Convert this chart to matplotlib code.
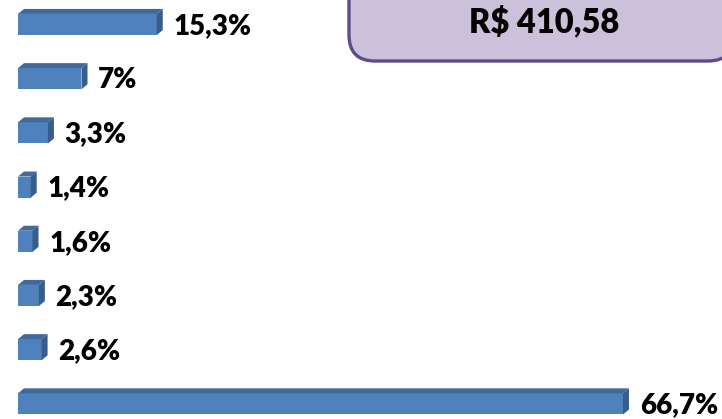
import matplotlib
matplotlib.use("Agg")
import matplotlib.pyplot as plt
from matplotlib.patches import Polygon, FancyBboxPatch

# dados (de cima para baixo)
valores = [15.3, 7, 3.3, 1.4, 1.6, 2.3, 2.6, 66.7]
rotulos = ["15,3%", "7%", "3,3%", "1,4%", "1,6%", "2,3%", "2,6%", "66,7%"]
total = "R$ 410,58"

plt.rcParams['font.family'] = ['Lato', 'DejaVu Sans']

fig = plt.figure(figsize=(7.22, 4.19), dpi=100)
ax = fig.add_axes([0, 0, 1, 1])

px_x = 9.07   # pixels por %
px_y = 54.2   # pixels por barra
ax.set_xlim(-18 / px_x, (722 - 18) / px_x)
ax.set_ylim((419 - 24.5) / px_y, -24.5 / px_y)
ax.axis('off')

h = 0.39
dx = 6 / px_x
dy = 5 / px_y
frente = '#4f81bd'
topo = '#41699b'
lado = '#385d8a'

pos = list(range(len(valores)))
ax.barh(pos, valores, height=h, color=frente, zorder=2)

for i, v in zip(pos, valores):
    t = i - h / 2
    b = i + h / 2
    ax.add_patch(Polygon([(0, t), (v, t), (v + dx, t - dy), (dx, t - dy)],
                         closed=True, color=topo, zorder=3, lw=0))
    ax.add_patch(Polygon([(v, t), (v + dx, t - dy), (v + dx, b - dy), (v, b)],
                         closed=True, color=lado, zorder=3, lw=0))

for i, v, r in zip(pos, valores, rotulos):
    ax.annotate(r, (v, i), xytext=(12, -1), textcoords='offset points',
                va='center', ha='left', fontsize=20, fontweight='heavy', color='black')

# caixa do total (coordenadas em pixels)
ax2 = fig.add_axes([0, 0, 1, 1], zorder=-1)
ax2.set_xlim(0, 722)
ax2.set_ylim(419, 0)
ax2.axis('off')
caixa = FancyBboxPatch((349, -60), 385, 121,
                       boxstyle="round,pad=0,rounding_size=26",
                       facecolor='#ccc1da', edgecolor='#5f4b8b', lw=2.4)
ax2.add_patch(caixa)
ax2.text(544, 22, total, ha='center', va='center', fontsize=23.5,
         fontweight='heavy', color='black')

fig.savefig("out.png", dpi=100)
